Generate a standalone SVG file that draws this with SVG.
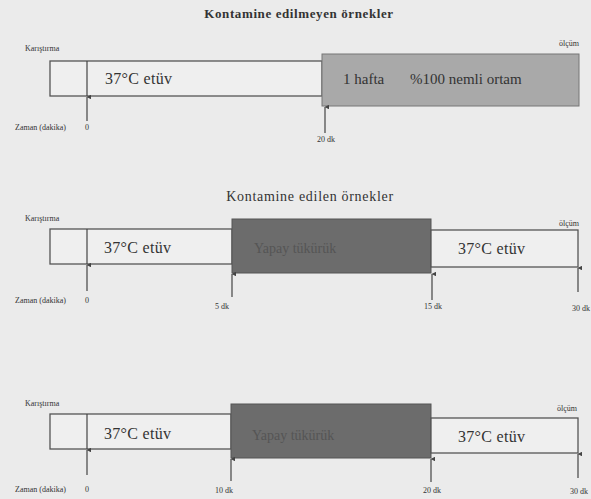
<svg xmlns="http://www.w3.org/2000/svg" width="591" height="499" viewBox="0 0 591 499">
<defs>
<style>
.bg{fill:#ebebeb}
.w{fill:#efefef;stroke:#555;stroke-width:1.3}
.g{fill:#a9a9a9;stroke:#777;stroke-width:1}
.d{fill:#6c6c6c;stroke:#555;stroke-width:1}
.ln{stroke:#444;stroke-width:1.2;fill:none}
.t{font-family:"Liberation Serif",serif;fill:#333}
.s{font-size:8px}
.m{font-size:16px;letter-spacing:0.3px}
.h{font-size:14px;letter-spacing:0.7px}
.dt{font-size:14px;fill:#555}
</style>
<marker id="ah" viewBox="0 0 6 6" refX="3" refY="0.5" markerWidth="4" markerHeight="4" orient="auto-start-reverse">
<path d="M0,6 L3,0 L6,6 z" fill="#444"/>
</marker>
</defs>
<rect class="bg" x="0" y="0" width="591" height="499"/>
<text class="t" x="299" y="18" font-size="13" text-anchor="middle" font-weight="bold" letter-spacing="0.6" fill="#555">Kontamine edilmeyen örnekler</text>

<g id="panel1">
<text class="t s" x="25" y="51">Karıştırma</text>
<text class="t s" x="559" y="46">ölçüm</text>
<rect id="p1-etuv" class="w" x="50" y="61" width="272" height="35"/>
<text class="t m" x="105" y="84">37°C etüv</text>
<g id="p1-nem">
<rect class="g" x="322" y="54" width="257" height="52"/>
<text class="t" x="343" y="84" font-size="15">1 hafta</text>
<text class="t" x="410" y="84" font-size="15">%100 nemli ortam</text>
</g>
<text class="t s" x="15" y="130">Zaman (dakika)</text>
<text class="t s" x="85" y="130">0</text>
<text class="t s" x="317" y="142">20 dk</text>
</g>

<text class="t h" x="310" y="201" text-anchor="middle">Kontamine edilen örnekler</text>
<g id="panel2">
<text class="t s" x="25" y="221">Karıştırma</text>
<text class="t s" x="559" y="226">ölçüm</text>
<rect id="p2-etuv1" class="w" x="50" y="229" width="182" height="35"/>
<text class="t m" x="104" y="253">37°C etüv</text>
<rect id="p2-tukuruk" class="d" x="232" y="219" width="199" height="54"/>
<text class="t dt" x="254" y="253">Yapay tükürük</text>
<rect id="p2-etuv2" class="w" x="431" y="230" width="147" height="37"/>
<text class="t m" x="458" y="254">37°C etüv</text>
<text class="t s" x="15" y="303">Zaman (dakika)</text>
<text class="t s" x="85" y="303">0</text>
<text class="t s" x="215" y="309">5 dk</text>
<text class="t s" x="424" y="309">15 dk</text>
<text class="t s" x="572" y="311">30 dk</text>
</g>

<g id="panel3">
<text class="t s" x="25" y="406">Karıştırma</text>
<text class="t s" x="557" y="411">ölçüm</text>
<rect id="p3-etuv1" class="w" x="50" y="414" width="181" height="35"/>
<text class="t m" x="104" y="439">37°C etüv</text>
<rect id="p3-tukuruk" class="d" x="231" y="404" width="200" height="54"/>
<text class="t dt" x="252" y="440">Yapay tükürük</text>
<rect id="p3-etuv2" class="w" x="431" y="418" width="147" height="35"/>
<text class="t m" x="458" y="442">37°C etüv</text>
<text class="t s" x="15" y="492">Zaman (dakika)</text>
<text class="t s" x="85" y="492">0</text>
<text class="t s" x="215" y="493">10 dk</text>
<text class="t s" x="423" y="493">20 dk</text>
<text class="t s" x="570" y="494">30 dk</text>
</g>

<g id="connectors">
<line class="ln" x1="87" y1="61" x2="87" y2="96"/>
<line class="ln" x1="87" y1="121" x2="87" y2="97" marker-end="url(#ah)"/>
<line class="ln" x1="325" y1="133" x2="325" y2="107" marker-end="url(#ah)"/>

<line class="ln" x1="87" y1="229" x2="87" y2="264"/>
<line class="ln" x1="87" y1="291" x2="87" y2="265" marker-end="url(#ah)"/>
<line class="ln" x1="232" y1="297" x2="232" y2="274" marker-end="url(#ah)"/>
<line class="ln" x1="432" y1="300" x2="432" y2="274" marker-end="url(#ah)"/>
<line class="ln" x1="578" y1="292" x2="578" y2="268" marker-end="url(#ah)"/>

<line class="ln" x1="87" y1="414" x2="87" y2="449"/>
<line class="ln" x1="87" y1="475" x2="87" y2="450" marker-end="url(#ah)"/>
<line class="ln" x1="231" y1="481" x2="231" y2="459" marker-end="url(#ah)"/>
<line class="ln" x1="431" y1="482" x2="431" y2="459" marker-end="url(#ah)"/>
<line class="ln" x1="578" y1="478" x2="578" y2="454" marker-end="url(#ah)"/>
</g>
</svg>
